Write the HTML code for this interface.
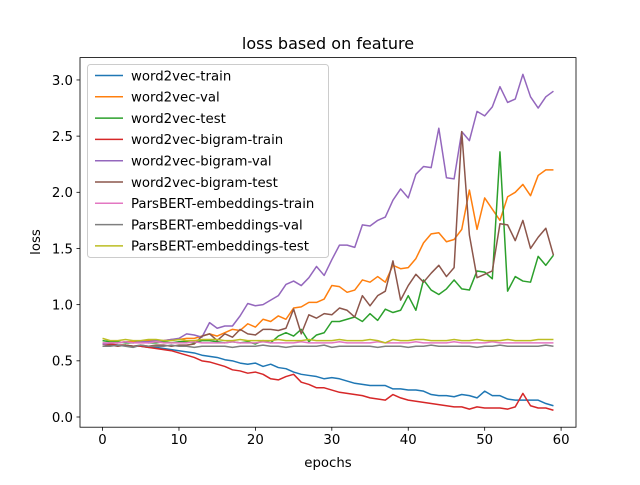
<!DOCTYPE html>
<html><head><meta charset="utf-8"><style>
body{margin:0;background:#fff;font-family:"Liberation Sans","DejaVu Sans",sans-serif}
svg text{font-family:"DejaVu Sans","Liberation Sans",sans-serif;fill:#000}
</style></head><body>
<svg id="c" width="640" height="480" viewBox="0 0 640 480">
<rect width="640" height="480" fill="#fff"/>
<g id="plot"></g>
</svg>
<script>
const seriesNames=["word2vec-train","word2vec-val","word2vec-test","word2vec-bigram-train","word2vec-bigram-val","word2vec-bigram-test","ParsBERT-embeddings-train","ParsBERT-embeddings-val","ParsBERT-embeddings-test"];
const colors=["#1f77b4","#ff7f0e","#2ca02c","#d62728","#9467bd","#8c564b","#e377c2","#7f7f7f","#bcbd22"];
const w2vTrain=[0.65,0.65,0.64,0.64,0.63,0.63,0.62,0.62,0.61,0.60,0.59,0.58,0.57,0.55,0.54,0.53,0.51,0.50,0.48,0.47,0.48,0.45,0.47,0.44,0.43,0.40,0.38,0.37,0.36,0.34,0.35,0.34,0.32,0.30,0.29,0.28,0.28,0.28,0.25,0.25,0.24,0.24,0.23,0.20,0.19,0.19,0.18,0.20,0.19,0.17,0.23,0.19,0.19,0.16,0.15,0.15,0.15,0.15,0.12,0.10];
const w2vVal=[0.65,0.66,0.66,0.67,0.67,0.67,0.68,0.68,0.68,0.69,0.69,0.70,0.70,0.72,0.74,0.72,0.75,0.78,0.77,0.83,0.80,0.87,0.85,0.90,0.87,0.97,0.98,1.02,1.02,1.05,1.17,1.16,1.11,1.13,1.22,1.20,1.25,1.20,1.35,1.32,1.33,1.41,1.55,1.63,1.64,1.56,1.58,1.67,2.02,1.67,1.95,1.85,1.75,1.96,2.00,2.07,1.97,2.15,2.20,2.20];
const w2vTest=[0.68,0.67,0.67,0.66,0.66,0.67,0.66,0.66,0.67,0.66,0.67,0.67,0.66,0.68,0.68,0.67,0.66,0.67,0.66,0.67,0.65,0.68,0.66,0.72,0.75,0.72,0.78,0.67,0.73,0.75,0.85,0.85,0.87,0.89,0.85,0.92,0.86,0.96,0.93,0.95,1.08,0.95,1.22,1.13,1.09,1.14,1.22,1.14,1.13,1.30,1.29,1.23,2.36,1.12,1.25,1.21,1.20,1.43,1.35,1.44];
const bigramTrain=[0.65,0.65,0.64,0.64,0.63,0.63,0.62,0.61,0.60,0.59,0.57,0.55,0.53,0.50,0.49,0.47,0.45,0.42,0.41,0.39,0.40,0.38,0.34,0.33,0.36,0.38,0.31,0.29,0.26,0.26,0.24,0.22,0.21,0.20,0.19,0.17,0.16,0.15,0.20,0.17,0.15,0.14,0.13,0.12,0.11,0.10,0.09,0.09,0.07,0.09,0.08,0.08,0.08,0.07,0.09,0.21,0.10,0.08,0.08,0.06];
const bigramVal=[0.65,0.66,0.66,0.67,0.66,0.67,0.67,0.68,0.68,0.69,0.70,0.74,0.73,0.71,0.84,0.79,0.81,0.81,0.90,1.01,0.99,1.00,1.04,1.08,1.18,1.21,1.17,1.24,1.34,1.26,1.40,1.53,1.53,1.51,1.71,1.70,1.75,1.78,1.93,2.03,1.95,2.16,2.23,2.22,2.57,2.13,2.12,2.54,2.46,2.72,2.68,2.76,2.94,2.80,2.83,3.05,2.85,2.75,2.85,2.90];
const bigramTest=[0.63,0.64,0.63,0.64,0.63,0.64,0.63,0.64,0.64,0.63,0.64,0.64,0.65,0.72,0.74,0.68,0.74,0.71,0.78,0.74,0.73,0.78,0.78,0.77,0.79,0.96,0.74,0.91,0.88,0.92,0.91,0.97,0.95,0.89,1.08,0.99,1.08,1.12,1.39,1.04,1.17,1.27,1.20,1.28,1.35,1.25,1.33,2.54,1.62,1.24,1.27,1.30,1.72,1.71,1.57,1.75,1.50,1.60,1.68,1.44];
const bertTrain=[0.66,0.66,0.66,0.67,0.66,0.66,0.66,0.67,0.66,0.66,0.66,0.66,0.67,0.66,0.66,0.66,0.66,0.67,0.66,0.66,0.66,0.67,0.66,0.66,0.66,0.66,0.67,0.66,0.66,0.66,0.66,0.67,0.66,0.66,0.66,0.66,0.67,0.66,0.66,0.66,0.66,0.67,0.66,0.66,0.66,0.66,0.67,0.66,0.66,0.66,0.66,0.67,0.66,0.66,0.66,0.66,0.66,0.66,0.66,0.66];
const bertVal=[0.63,0.63,0.64,0.63,0.62,0.64,0.63,0.63,0.63,0.64,0.63,0.63,0.62,0.63,0.63,0.63,0.63,0.62,0.63,0.63,0.63,0.64,0.63,0.63,0.62,0.63,0.63,0.63,0.63,0.64,0.62,0.63,0.63,0.63,0.63,0.63,0.62,0.63,0.63,0.63,0.62,0.63,0.63,0.64,0.63,0.63,0.63,0.63,0.63,0.62,0.63,0.63,0.64,0.63,0.63,0.63,0.63,0.63,0.64,0.63];
const bertTest=[0.70,0.68,0.68,0.69,0.68,0.68,0.69,0.69,0.68,0.68,0.69,0.68,0.68,0.69,0.69,0.69,0.68,0.68,0.69,0.68,0.68,0.68,0.68,0.69,0.68,0.68,0.68,0.69,0.68,0.68,0.68,0.69,0.68,0.68,0.68,0.69,0.68,0.66,0.69,0.68,0.68,0.69,0.69,0.68,0.68,0.68,0.69,0.68,0.68,0.69,0.68,0.68,0.68,0.69,0.68,0.68,0.68,0.69,0.69,0.69];
const allSeries=[w2vTrain,w2vVal,w2vTest,bigramTrain,bigramVal,bigramTest,bertTrain,bertVal,bertTest];
const xTicks=[0,10,20,30,40,50,60];
const yTicks=[0.0,0.5,1.0,1.5,2.0,2.5,3.0];

const NS="http://www.w3.org/2000/svg";
const L=80,R=576,T=57.6,B=427.2;
const xmin=-2.95,xmax=61.95,ymin=-0.0908,ymax=3.199;
const sx=v=>L+(v-xmin)/(xmax-xmin)*(R-L);
const sy=v=>B-(v-ymin)/(ymax-ymin)*(B-T);
const g=document.getElementById('plot');
function mk(tag,attrs,parent){const e=document.createElementNS(NS,tag);for(const k in attrs)e.setAttribute(k,attrs[k]);(parent||g).appendChild(e);return e;}

allSeries.forEach((s,i)=>{
  const p=mk('polyline',{points:s.map((v,j)=>sx(j)+','+sy(v)).join(' '),fill:'none',stroke:colors[i],'stroke-width':1.5,'stroke-linejoin':'round'});
  
  
});
const frame=mk('rect',{x:L,y:T,width:R-L,height:B-T,fill:'none',stroke:'#000','stroke-width':0.8});


xTicks.forEach(v=>{
  const x=sx(v);
  mk('line',{x1:x,x2:x,y1:B,y2:B+3.5,stroke:'#000','stroke-width':0.8});
  const t=mk('text',{x:x,y:B+17,'text-anchor':'middle','font-size':'13.3'});
  t.textContent=v;
  
  
});
yTicks.forEach(v=>{
  const y=sy(v);
  mk('line',{x1:L-3.5,x2:L,y1:y,y2:y,stroke:'#000','stroke-width':0.8});
  const t=mk('text',{x:L-7,y:y+4.8,'text-anchor':'end','font-size':'13.3'});
  t.textContent=v.toFixed(1);
  
  
});
const title=mk('text',{x:328,y:49,'text-anchor':'middle','font-size':'16'});
title.textContent='loss based on feature';


const xl=mk('text',{x:328,y:467,'text-anchor':'middle','font-size':'13.3'});
xl.textContent='epochs';


const yl=mk('text',{x:40,y:242,'text-anchor':'middle','font-size':'13.3',transform:'rotate(-90 40 242)'});
yl.textContent='loss';


const lg=mk('g',{});


mk('rect',{x:87.5,y:64.5,width:241,height:193,rx:3,fill:'#fff','fill-opacity':0.8,stroke:'#ccc','stroke-width':1},lg);
seriesNames.forEach((n,i)=>{
  const y=75.5+i*21.3;
  const e=mk('g',{},lg);
  
  
  mk('line',{x1:95,x2:123,y1:y,y2:y,stroke:colors[i],'stroke-width':1.5},e);
  const t=mk('text',{x:131,y:y+4.8,'font-size':'13.3'},e);
  t.textContent=n;
});
</script>
</body></html>
